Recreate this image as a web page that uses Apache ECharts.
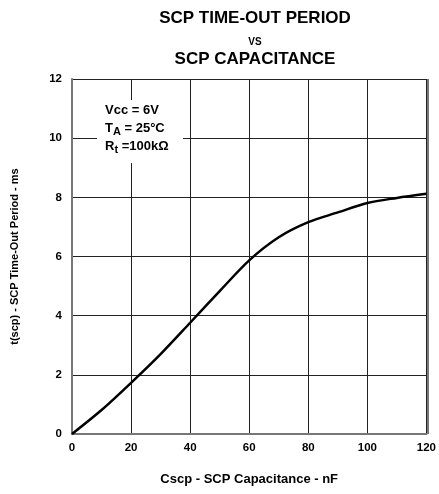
<!DOCTYPE html>
<html>
<head>
<meta charset="utf-8">
<script src="https://cdn.jsdelivr.net/npm/echarts@6/dist/echarts.min.js"></script>
<style>
  html, body { margin: 0; padding: 0; background: #fff; }
  #root { width: 439px; height: 494px; }
</style>
</head>
<body>
<div id="root"></div>
<script>
// 数据
const capacitance = [0, 10, 20, 30, 40, 50, 60, 70, 80, 90, 100, 110, 120];
const timeout = [0, 0.81, 1.73, 2.7, 3.76, 4.83, 5.87, 6.65, 7.16, 7.49, 7.81, 7.98, 8.12];
const xTicks = [0, 20, 40, 60, 80, 100, 120];
const yTicks = [0, 2, 4, 6, 8, 10, 12];

const FONT = 'Liberation Sans, Arial, sans-serif';
const GRID_COLOR = '#222';

let chart = echarts.init(document.getElementById('root'));

let option = {
    animation: false,
    title: [
        { text: 'SCP TIME-OUT PERIOD', left: 250, top: 5, textAlign: 'center',
          textStyle: { fontFamily: FONT, fontWeight: 'bold', fontSize: 17, color: '#000' } },
        { text: 'VS', left: 250, top: 32, textAlign: 'center',
          textStyle: { fontFamily: FONT, fontWeight: 'bold', fontSize: 10, color: '#000' } },
        { text: 'SCP CAPACITANCE', left: 250, top: 46, textAlign: 'center',
          textStyle: { fontFamily: FONT, fontWeight: 'bold', fontSize: 17, color: '#000' } }
    ],
    grid: { left: 72, right: 11, top: 79, bottom: 60 },
    xAxis: {
        type: 'value', min: 0, max: 120, interval: 20,
        name: 'Cscp - SCP Capacitance - nF', nameLocation: 'middle', nameGap: 39,
        nameTextStyle: { fontFamily: FONT, fontWeight: 'bold', fontSize: 13, color: '#000' },
        axisLine: { lineStyle: { color: '#777', width: 2 } },
        axisTick: { show: false },
        axisLabel: { fontFamily: FONT, fontWeight: 'bold', fontSize: 11.5, color: '#000', margin: 8,
                     formatter: v => xTicks.includes(v) ? String(v) : '' },
        splitLine: { show: true, lineStyle: { color: GRID_COLOR, width: 1 } }
    },
    yAxis: {
        type: 'value', min: 0, max: 12, interval: 2,
        name: 't(scp) - SCP Time-Out Period - ms', nameLocation: 'middle', nameGap: 52,
        nameTextStyle: { fontFamily: FONT, fontWeight: 'bold', fontSize: 11, color: '#000' },
        axisLine: { lineStyle: { color: '#777', width: 2 } },
        axisTick: { show: false },
        axisLabel: { fontFamily: FONT, fontWeight: 'bold', fontSize: 11.5, color: '#000', margin: 10,
                     formatter: v => yTicks.includes(v) ? String(v) : '' },
        splitLine: { show: true, lineStyle: { color: GRID_COLOR, width: 1 } }
    },
    graphic: [
        { type: 'rect', left: 97, top: 100, z: 10,
          shape: { width: 86, height: 63 }, style: { fill: '#fff' } },
        { type: 'rect', left: 427, top: 79, z: 10,
          shape: { width: 2, height: 355 }, style: { fill: '#777' } },
        { type: 'text', left: 105, top: 104, z: 11,
          style: {
              text: '{a|Vcc = 6V}\n{a|T}{s|A}{a| = 25°C}\n{a|R}{s|t}{a| =100kΩ}',
              rich: {
                  a: { fontFamily: FONT, fontWeight: 'bold', fontSize: 13, fill: '#000', lineHeight: 18 },
                  s: { fontFamily: FONT, fontWeight: 'bold', fontSize: 11, fill: '#000', lineHeight: 18, verticalAlign: 'bottom', padding: [6, 0, 0, 0] }
              }
          } }
    ],
    series: [{
        type: 'line',
        data: capacitance.map((c, i) => [c, timeout[i]]),
        smooth: 0.3,
        symbol: 'none',
        lineStyle: { color: '#000', width: 2.5 },
        z: 5
    }]
};

chart.setOption(option);
</script>
</body>
</html>
